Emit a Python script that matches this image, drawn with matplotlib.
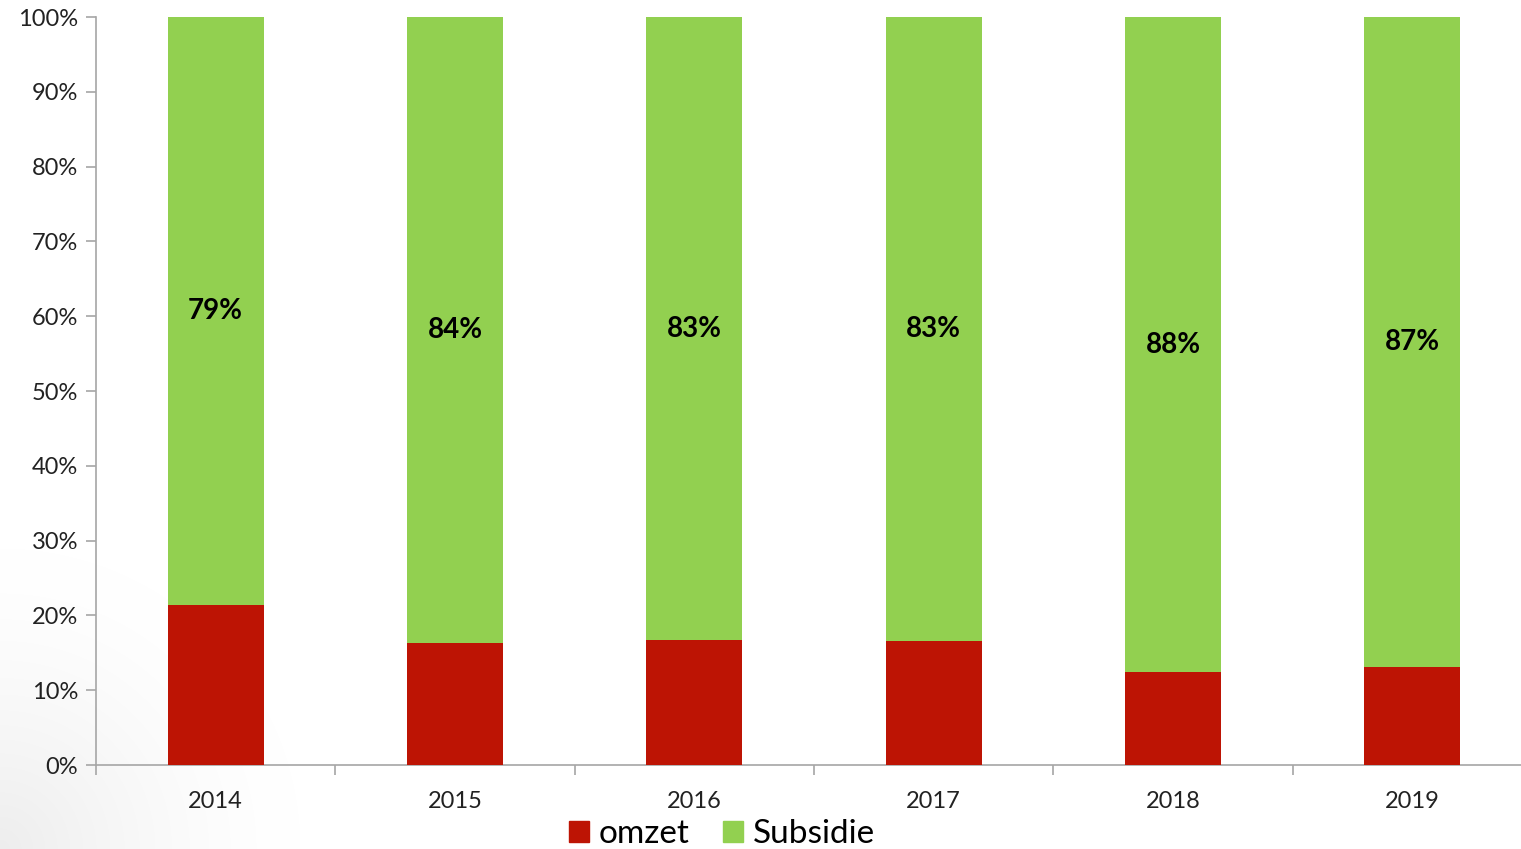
import matplotlib
matplotlib.use("Agg")
import matplotlib.pyplot as plt
import numpy as np
from matplotlib.patches import Patch

years = ["2014", "2015", "2016", "2017", "2018", "2019"]
omzet = [21.4, 16.3, 16.7, 16.6, 12.4, 13.1]
subsidie = [78.6, 83.7, 83.3, 83.4, 87.6, 86.9]
labels = ["79%", "84%", "83%", "83%", "88%", "87%"]
yticks = [0, 10, 20, 30, 40, 50, 60, 70, 80, 90, 100]

RED = "#BD1404"
GREEN = "#92D050"
FONT = ["Lato", "DejaVu Sans"]
plt.rcParams['font.family'] = FONT

W, H = 1521, 849
fig = plt.figure(figsize=(W / 100, H / 100), dpi=100)

# subtle background shadow in bottom-left corner
bg = fig.add_axes([0, 0, 1, 1], zorder=-10)
yy, xx = np.mgrid[0:H, 0:W]
d = np.sqrt((xx / 1.0) ** 2 + ((H - yy) / 1.0) ** 2)
shade = np.clip(1 - d / 300, 0, 1) ** 1.5 * 0.07
img = np.ones((H, W, 3)) * (1 - shade)[..., None]
bg.imshow(img, extent=[0, 1, 0, 1], aspect="auto", origin="upper")
bg.axis("off")

left = 96 / W
right = 1532 / W
bottom = (H - 765) / H
top = (H - 17) / H
ax = fig.add_axes([left, bottom, right - left, top - bottom])
ax.patch.set_alpha(0)

x = np.arange(len(years))
ax.bar(x, omzet, width=0.4, color=RED, label="omzet", zorder=3)
ax.bar(x, subsidie, width=0.4, bottom=omzet, color=GREEN, label="Subsidie", zorder=3)

for i, lab in enumerate(labels):
    ax.text(x[i], omzet[i] + subsidie[i] / 2, lab, ha="center", va="center",
            fontsize=20, fontweight="bold", color="black", zorder=4)

ax.set_xlim(-0.5, len(years) - 0.5)
ax.set_ylim(0, 100)
ax.set_yticks(yticks)
ax.set_yticklabels([f"{v}%" for v in yticks])
ax.set_xticks(x)
ax.set_xticklabels(years)
ax.set_xticks(np.arange(len(years) + 1) - 0.5, minor=True)
ax.tick_params(axis="x", which="major", length=0, pad=19, labelsize=17, colors="#222222")
ax.tick_params(axis="x", which="minor", length=7, color="#A6A6A6", width=1.2)
ax.tick_params(axis="y", length=7, color="#A6A6A6", width=1.2, labelsize=17, pad=6,
               labelcolor="#222222")
for s in ["top", "right"]:
    ax.spines[s].set_visible(False)
for s in ["left", "bottom"]:
    ax.spines[s].set_color("#A6A6A6")
    ax.spines[s].set_linewidth(1.2)

handles = [Patch(color=RED, label="omzet"), Patch(color=GREEN, label="Subsidie")]
fig.legend(handles=handles, loc="center", bbox_to_anchor=(722 / W, (H - 834) / H),
           ncol=2, frameon=False, fontsize=24, handlelength=0.6, handleheight=0.6,
           handletextpad=0.3, columnspacing=1.0, borderpad=0.0)

fig.savefig("out.png", dpi=100)
